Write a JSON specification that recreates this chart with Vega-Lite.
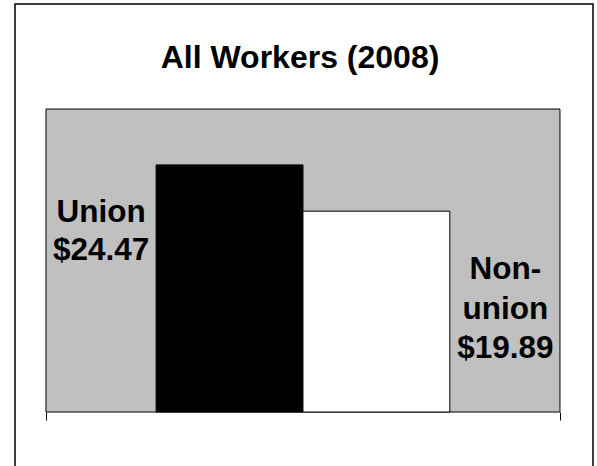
{
  "$schema": "https://vega.github.io/schema/vega-lite/v6.json",
  "width": 578,
  "height": 476,
  "autosize": "none",
  "padding": {"left": 15, "top": 4, "right": 4, "bottom": 0},
  "background": "white",
  "title": {
    "text": "All Workers (2008)",
    "font": "Liberation Sans",
    "fontSize": 32,
    "fontWeight": "bold",
    "color": "black",
    "anchor": "middle",
    "baseline": "alphabetic",
    "offset": -96,
    "dx": -4
  },
  "config": {"view": {"stroke": "black", "strokeWidth": 1.5, "fill": "white"}},
  "data": {
    "values": [
      {"group": "All Workers", "series": "Union", "wage": 24.47, "label": "Union\n$24.47"},
      {"group": "All Workers", "series": "Non-union", "wage": 19.89, "label": "Non-\nunion\n$19.89"}
    ]
  },
  "encoding": {
    "x": {
      "field": "group",
      "type": "nominal",
      "scale": {"paddingOuter": 0.0623, "paddingInner": 0, "align": 0.484},
      "axis": {
        "orient": "bottom",
        "offset": -67.97,
        "domain": false,
        "labels": false,
        "title": null,
        "ticks": true,
        "tickBand": "extent",
        "tickSize": 8,
        "tickColor": "black",
        "tickWidth": 1,
        "grid": false
      }
    }
  },
  "layer": [
    {
      "data": {"values": [{"group": "All Workers"}]},
      "mark": {"type": "rect", "fill": "#C0C0C0", "stroke": "black", "strokeWidth": 1},
      "encoding": {
        "y": {"datum": 0, "type": "quantitative", "scale": {"domain": [-6.73, 40.4], "nice": false, "zero": false}, "axis": null},
        "y2": {"datum": 30}
      }
    },
    {
      "mark": {"type": "bar", "stroke": "black", "strokeWidth": 1},
      "encoding": {
        "xOffset": {"field": "series", "type": "nominal", "scale": {"domain": ["Union", "Non-union"], "paddingOuter": 0.75, "paddingInner": 0}},
        "y": {"field": "wage", "type": "quantitative"},
        "y2": {"datum": 0},
        "color": {"field": "series", "type": "nominal", "scale": {"domain": ["Union", "Non-union"], "range": ["black", "white"]}, "legend": null}
      }
    },
    {
      "transform": [{"filter": "datum.series === 'Union'"}],
      "mark": {"type": "text", "lineBreak": "\n", "font": "Liberation Sans", "fontSize": 31.5, "fontWeight": "bold", "color": "black", "align": "center", "baseline": "alphabetic", "lineHeight": 38, "dx": -128.5, "dy": 57},
      "encoding": {
        "xOffset": {"field": "series", "type": "nominal"},
        "y": {"field": "wage", "type": "quantitative"},
        "text": {"field": "label"}
      }
    },
    {
      "transform": [{"filter": "datum.series === 'Non-union'"}],
      "mark": {"type": "text", "lineBreak": "\n", "font": "Liberation Sans", "fontSize": 31.5, "fontWeight": "bold", "color": "black", "align": "center", "baseline": "alphabetic", "lineHeight": 39.5, "dx": 129, "dy": 68},
      "encoding": {
        "xOffset": {"field": "series", "type": "nominal"},
        "y": {"field": "wage", "type": "quantitative"},
        "text": {"field": "label"}
      }
    }
  ]
}
